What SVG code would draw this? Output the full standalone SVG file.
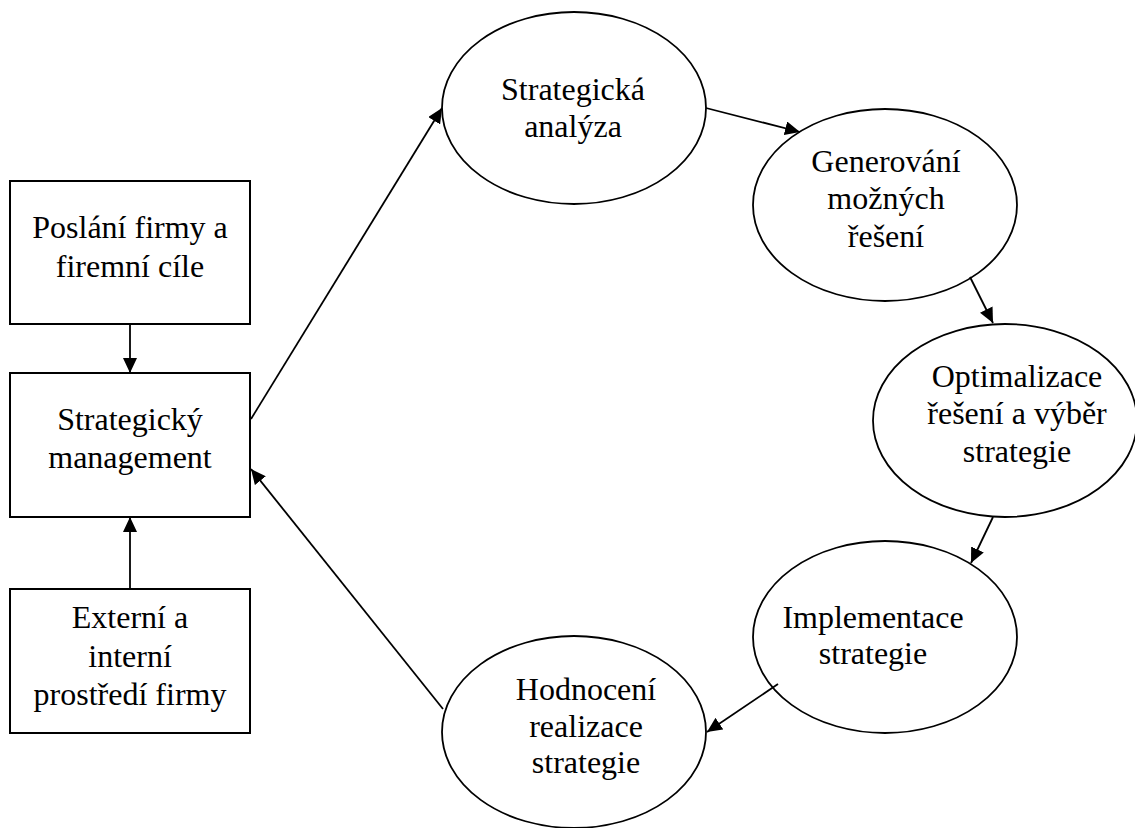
<svg xmlns="http://www.w3.org/2000/svg" width="1135" height="828" viewBox="0 0 1135 828">
<style>
.box{fill:#fff;stroke:#000;stroke-width:2}
.ell{fill:#fff;stroke:#000;stroke-width:1.8}
.t{font-family:"Liberation Serif","Times New Roman",serif;font-size:32px;fill:#000;text-anchor:middle}
.c{fill:none;stroke:#000;stroke-width:1.8;marker-end:url(#ah)}
</style>
<defs>
<marker id="ah" markerUnits="userSpaceOnUse" markerWidth="16" markerHeight="14" refX="15" refY="7" orient="auto">
<path d="M0,0 L15,7 L0,14 Z" fill="#000"/>
</marker>
</defs>
<rect width="1135" height="828" fill="#fff"/>
<g id="n-poslani">
<rect class="box" x="10" y="181" width="240" height="143"/>
<text class="t" x="130" y="238">Poslání firmy a</text>
<text class="t" x="130" y="277">firemní cíle</text>
</g>
<g id="n-management">
<rect class="box" x="10" y="373" width="240" height="144"/>
<text class="t" x="130" y="430">Strategický</text>
<text class="t" x="130" y="468">management</text>
</g>
<g id="n-prostredi">
<rect class="box" x="10" y="589" width="240" height="144"/>
<text class="t" x="130" y="628">Externí a</text>
<text class="t" x="130" y="667">interní</text>
<text class="t" x="130" y="705">prostředí firmy</text>
</g>
<g id="n-analyza">
<ellipse class="ell" cx="574" cy="108" rx="132" ry="96"/>
<text class="t" x="573" y="100">Strategická</text>
<text class="t" x="573" y="137">analýza</text>
</g>
<g id="n-generovani">
<ellipse class="ell" cx="885" cy="205" rx="132" ry="96"/>
<text class="t" x="886" y="172">Generování</text>
<text class="t" x="886" y="209">možných</text>
<text class="t" x="886" y="247">řešení</text>
</g>
<g id="n-optimalizace">
<ellipse class="ell" cx="1005" cy="420.5" rx="132" ry="96.5"/>
<text class="t" x="1017" y="387">Optimalizace</text>
<text class="t" x="1017" y="424">řešení a výběr</text>
<text class="t" x="1017" y="462">strategie</text>
</g>
<g id="n-implementace">
<ellipse class="ell" cx="885" cy="637" rx="132" ry="96"/>
<text class="t" x="873" y="628">Implementace</text>
<text class="t" x="873" y="664">strategie</text>
</g>
<g id="n-hodnoceni">
<ellipse class="ell" cx="574" cy="732" rx="132" ry="96"/>
<text class="t" x="586" y="700">Hodnocení</text>
<text class="t" x="586" y="737">realizace</text>
<text class="t" x="586" y="773">strategie</text>
</g>
<g id="connectors">
<line class="c" x1="130" y1="324" x2="130" y2="373"/>
<line class="c" x1="130" y1="589" x2="130" y2="517"/>
<line class="c" x1="251" y1="419" x2="442" y2="108"/>
<line class="c" x1="706" y1="108" x2="800" y2="132"/>
<line class="c" x1="970" y1="277" x2="993" y2="323"/>
<line class="c" x1="993" y1="517" x2="971" y2="563"/>
<line class="c" x1="778" y1="684" x2="707" y2="732"/>
<line class="c" x1="443" y1="709" x2="251" y2="469"/>
</g>
</svg>
